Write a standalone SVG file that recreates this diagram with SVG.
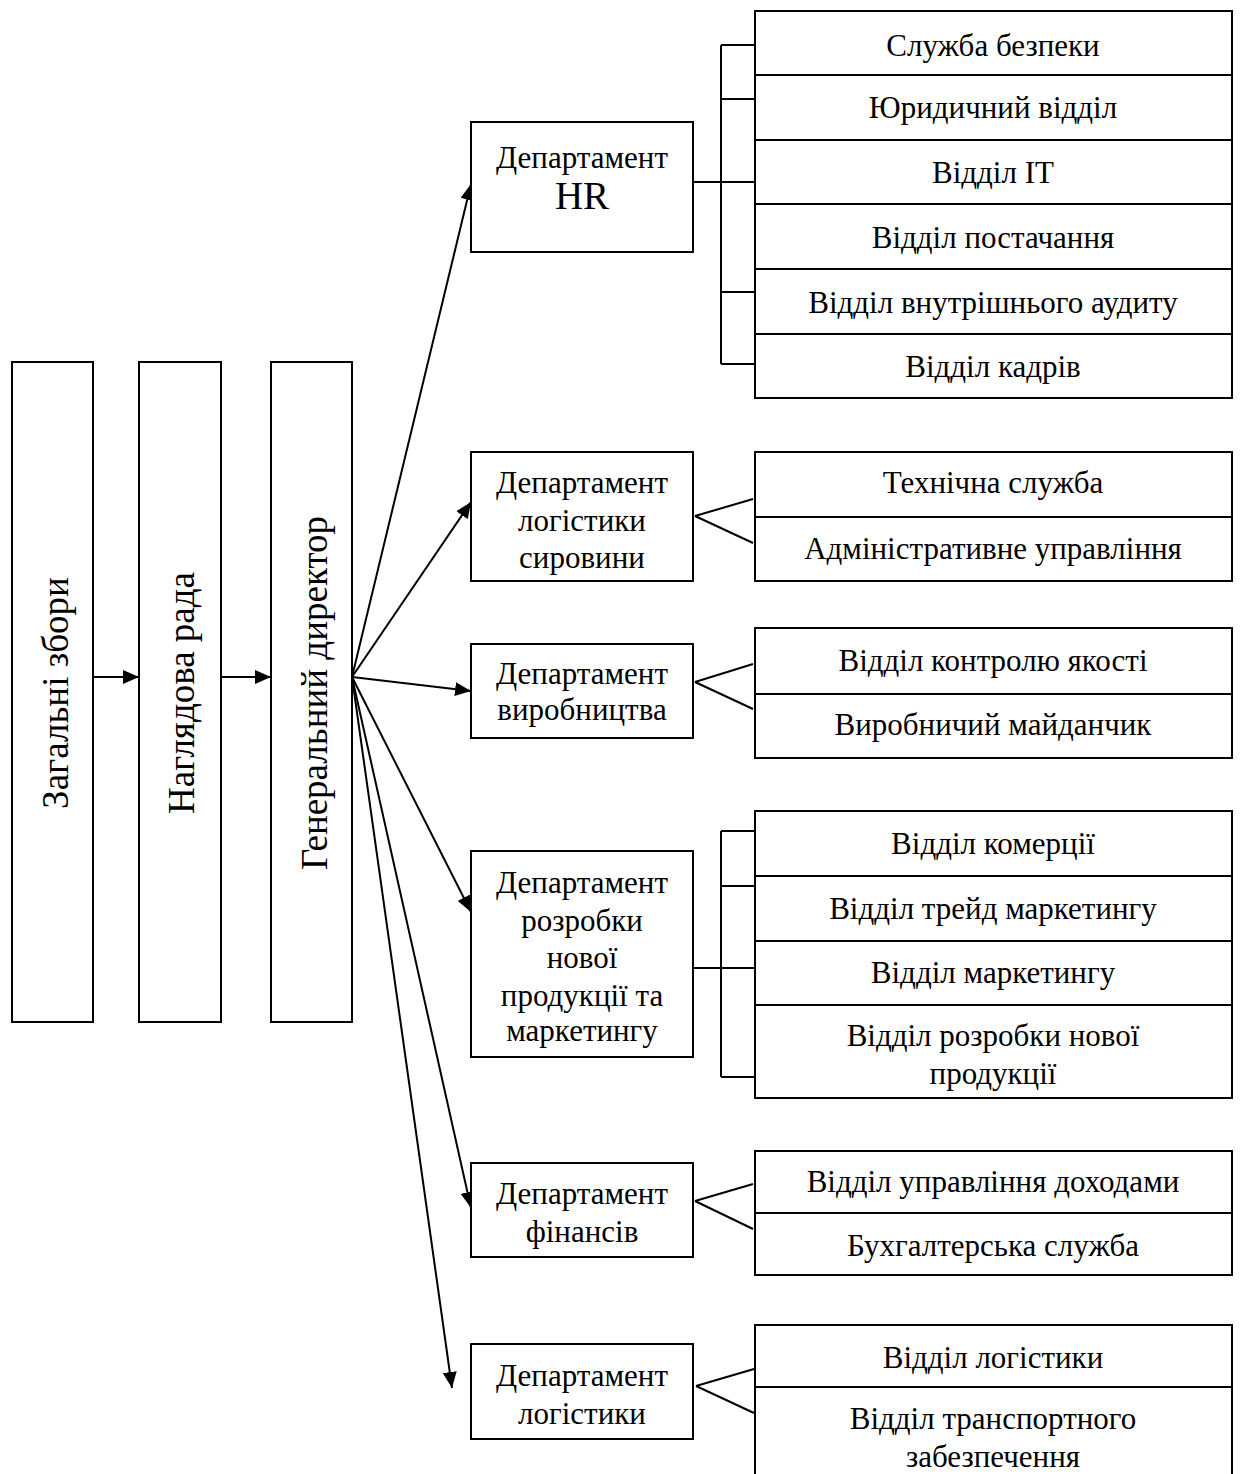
<svg xmlns="http://www.w3.org/2000/svg" width="1241" height="1474" viewBox="0 0 1241 1474">
<defs>
<style>
.b{fill:#fff;stroke:#000;stroke-width:2}
.l{fill:none;stroke:#000;stroke-width:2}
.t{font-family:"Liberation Serif","Times New Roman",serif;font-size:31px;fill:#000;text-anchor:middle}
.v{font-family:"Liberation Serif","Times New Roman",serif;font-size:37px;fill:#000;text-anchor:middle}
</style>
<marker id="ar" viewBox="0 0 16 14" refX="16" refY="7" markerWidth="16" markerHeight="14" markerUnits="userSpaceOnUse" orient="auto">
<path d="M0,0 L16,7 L0,14 z" fill="#000"/>
</marker>
</defs>
<g id="connectors">
<line class="l" x1="93" y1="677" x2="139" y2="677" marker-end="url(#ar)"/>
<line class="l" x1="221" y1="677" x2="271" y2="677" marker-end="url(#ar)"/>
<line class="l" x1="352" y1="677" x2="471" y2="184" marker-end="url(#ar)"/>
<line class="l" x1="352" y1="677" x2="471" y2="502" marker-end="url(#ar)"/>
<line class="l" x1="352" y1="677" x2="471" y2="691" marker-end="url(#ar)"/>
<line class="l" x1="352" y1="677" x2="471" y2="912" marker-end="url(#ar)"/>
<line class="l" x1="352" y1="677" x2="471" y2="1208" marker-end="url(#ar)"/>
<line class="l" x1="352" y1="677" x2="452" y2="1388" marker-end="url(#ar)"/>
<path class="l" d="M693,182 H755 M721,45 V364 M721,45 H755 M721,99 H755 M721,292 H755 M721,364 H755"/>
<path class="l" d="M695,516 L753,499 M695,516 L753,543"/>
<path class="l" d="M695,682 L753,664 M695,682 L753,709"/>
<path class="l" d="M693,968 H755 M721,831 V1077 M721,831 H755 M721,886 H755 M721,1077 H755"/>
<path class="l" d="M695,1201 L753,1184 M695,1201 L753,1229"/>
<path class="l" d="M696,1386 L754,1369 M696,1386 L754,1413"/>
</g>
<g id="n-zahalni"><rect class="b" x="12" y="362" width="81" height="660"/><text class="v" transform="translate(56,693) rotate(-90)" y="12">Загальні збори</text></g>
<g id="n-nahliadova"><rect class="b" x="139" y="362" width="82" height="660"/><text class="v" transform="translate(182,693) rotate(-90)" y="12">Наглядова рада</text></g>
<g id="n-gendir"><rect class="b" x="271" y="362" width="81" height="660"/><text class="v" transform="translate(315,693) rotate(-90)" y="12">Генеральний директор</text></g>
<g id="d-hr"><rect class="b" x="471" y="122" width="222" height="130"/><text class="t" x="582" y="168">Департамент</text><text class="t" x="582" y="209" style="font-size:39px">HR</text></g>
<g id="d-logsyr"><rect class="b" x="471" y="452" width="222" height="129"/><text class="t" x="582" y="493">Департамент</text><text class="t" x="582" y="531">логістики</text><text class="t" x="582" y="568">сировини</text></g>
<g id="d-vyrob"><rect class="b" x="471" y="644" width="222" height="94"/><text class="t" x="582" y="684">Департамент</text><text class="t" x="582" y="720">виробництва</text></g>
<g id="d-rozrob"><rect class="b" x="471" y="851" width="222" height="206"/><text class="t" x="582" y="893">Департамент</text><text class="t" x="582" y="931">розробки</text><text class="t" x="582" y="968">нової</text><text class="t" x="582" y="1006">продукції та</text><text class="t" x="582" y="1041">маркетингу</text></g>
<g id="d-fin"><rect class="b" x="471" y="1163" width="222" height="94"/><text class="t" x="582" y="1204">Департамент</text><text class="t" x="582" y="1242">фінансів</text></g>
<g id="d-log"><rect class="b" x="471" y="1344" width="222" height="95"/><text class="t" x="582" y="1386">Департамент</text><text class="t" x="582" y="1424">логістики</text></g>
<g id="s-hr">
<rect class="b" x="755" y="11" width="477" height="387"/>
<path class="l" d="M755,75 H1232 M755,140 H1232 M755,204 H1232 M755,269 H1232 M755,334 H1232"/>
<text class="t" x="993" y="56">Служба безпеки</text>
<text class="t" x="993" y="118">Юридичний відділ</text>
<text class="t" x="993" y="183">Відділ IT</text>
<text class="t" x="993" y="248">Відділ постачання</text>
<text class="t" x="993" y="313">Відділ внутрішнього аудиту</text>
<text class="t" x="993" y="377">Відділ кадрів</text>
</g>
<g id="s-logsyr">
<rect class="b" x="755" y="452" width="477" height="129"/>
<path class="l" d="M755,517 H1232"/>
<text class="t" x="993" y="493">Технічна служба</text>
<text class="t" x="993" y="559">Адміністративне управління</text>
</g>
<g id="s-vyrob">
<rect class="b" x="755" y="628" width="477" height="130"/>
<path class="l" d="M755,694 H1232"/>
<text class="t" x="993" y="671">Відділ контролю якості</text>
<text class="t" x="993" y="735">Виробничий майданчик</text>
</g>
<g id="s-rozrob">
<rect class="b" x="755" y="811" width="477" height="287"/>
<path class="l" d="M755,876 H1232 M755,941 H1232 M755,1005 H1232"/>
<text class="t" x="993" y="854">Відділ комерції</text>
<text class="t" x="993" y="919">Відділ трейд маркетингу</text>
<text class="t" x="993" y="983">Відділ маркетингу</text>
<text class="t" x="993" y="1046">Відділ розробки нової</text>
<text class="t" x="993" y="1084">продукції</text>
</g>
<g id="s-fin">
<rect class="b" x="755" y="1151" width="477" height="124"/>
<path class="l" d="M755,1213 H1232"/>
<text class="t" x="993" y="1192">Відділ управління доходами</text>
<text class="t" x="993" y="1256">Бухгалтерська служба</text>
</g>
<g id="s-log">
<path class="b" d="M755,1480 V1325 H1232 V1480"/>
<path class="l" d="M755,1387 H1232"/>
<text class="t" x="993" y="1368">Відділ логістики</text>
<text class="t" x="993" y="1429">Відділ транспортного</text>
<text class="t" x="993" y="1467">забезпечення</text>
</g>
</svg>
